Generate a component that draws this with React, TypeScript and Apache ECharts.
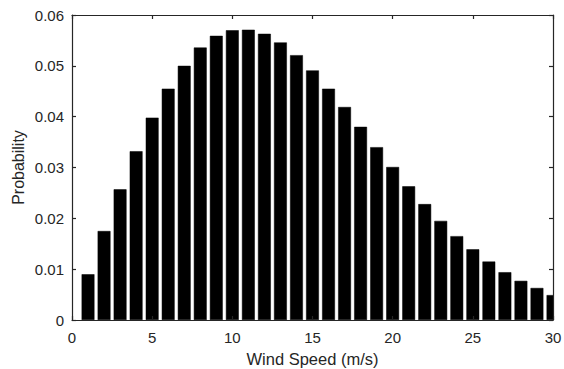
import React, { useEffect, useRef } from "react";
import * as echarts from "echarts";

const windSpeeds = [1,2,3,4,5,6,7,8,9,10,11,12,13,14,15,16,17,18,19,20,21,22,23,24,25,26,27,28,29,30];
const probabilities = [
  0.0090, 0.0175, 0.0257, 0.0332, 0.0398, 0.0455, 0.0500, 0.0536, 0.0559, 0.0570,
  0.0571, 0.0563, 0.0546, 0.0521, 0.0491, 0.0455, 0.0419, 0.0380, 0.0340, 0.0301,
  0.0263, 0.0228, 0.0195, 0.0165, 0.0139, 0.0115, 0.0094, 0.0077, 0.0063, 0.0049,
];
const yTicks = [0, 0.01, 0.02, 0.03, 0.04, 0.05, 0.06];

export default function App() {
  const ref = useRef<HTMLDivElement>(null);
  useEffect(() => {
    if (!ref.current) return;
    const chart = echarts.init(ref.current, undefined, { renderer: "svg" });
    const axisColor = "#262626";
    const font = "Liberation Sans, Arial, Helvetica, sans-serif";
    const common = {
      axisLine: { show: true, onZero: false, lineStyle: { color: axisColor, width: 1.2 } },
      axisTick: { show: true, inside: true, length: 4, lineStyle: { color: axisColor, width: 1.2 } },
      splitLine: { show: false },
    };
    chart.setOption({
      animation: false,
      backgroundColor: "#ffffff",
      grid: {
        left: 72,
        top: 15,
        right: 11,
        bottom: 49,
        containLabel: false,
        outerBoundsMode: "none",
      },
      graphic: [
        {
          type: "rect",
          z: 5,
          shape: { x: 553.6, y: 0, width: 20, height: 322 },
          style: { fill: "#ffffff" },
        },
      ],
      xAxis: [
        {
          type: "value",
          min: 0,
          max: 30,
          interval: 5,
          ...common,
          z: 10,
          axisLabel: { color: axisColor, fontSize: 15, fontFamily: font, margin: 10 },
          name: "Wind Speed (m/s)",
          nameLocation: "middle",
          nameGap: 30,
          nameMoveOverlap: false,
          nameTextStyle: { color: axisColor, fontSize: 16.5, fontFamily: font },
        },
        {
          type: "value",
          position: "top",
          min: 0,
          max: 30,
          interval: 5,
          ...common,
          z: 10,
          axisLabel: { show: false },
        },
      ],
      yAxis: [
        {
          type: "value",
          min: 0,
          max: 0.06,
          interval: 0.01,
          ...common,
          z: 10,
          axisLabel: {
            color: axisColor,
            fontSize: 15,
            fontFamily: font,
            margin: 8,
            formatter: (v: number) => {
              const t = yTicks.find((x) => Math.abs(x - v) < 1e-9);
              return t === 0 ? "0" : String(+(t ?? v).toFixed(2));
            },
          },
          name: "Probability",
          nameLocation: "middle",
          nameGap: 46,
          nameMoveOverlap: false,
          nameTextStyle: { color: axisColor, fontSize: 16, fontFamily: font },
        },
        {
          type: "value",
          position: "right",
          min: 0,
          max: 0.06,
          interval: 0.01,
          ...common,
          z: 10,
          axisLabel: { show: false },
        },
      ],
      series: [
        {
          type: "bar",
          xAxisIndex: 0,
          yAxisIndex: 0,
          barWidth: "80%",
          clip: true,
          itemStyle: { color: "#000000", borderColor: "#000000", borderWidth: 0.5 },
          data: windSpeeds.map((w, i) => [w, probabilities[i]]),
        },
      ],
    });
    return () => chart.dispose();
  }, []);
  return (
    <div
      ref={ref}
      style={{ position: "fixed", left: 0, top: 0, width: 564, height: 369 }}
    />
  );
}
